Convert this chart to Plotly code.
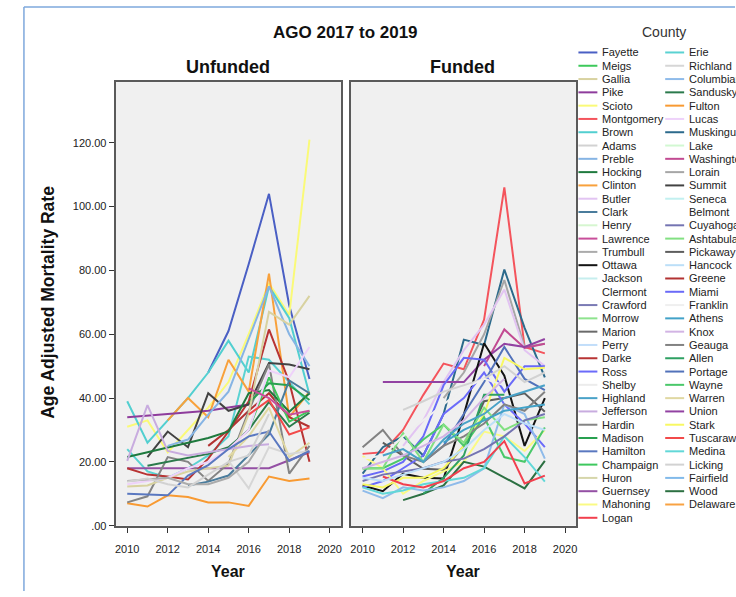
import plotly.graph_objects as go

YEARS = [2010, 2011, 2012, 2013, 2014, 2015, 2016, 2017, 2018, 2019]
N = None

# ---------- Unfunded panel series ----------
fayette = [N, N, N, N, 48, 61, 82, 104, 69, 46]
scioto = [31, 33, 23, 30, 37, 45, 60, 76, 66, 121]
brown = [39, 26, 33, 40, 48, 58, 48, 75, 65, 41]
erie = [24, 17, 15, 18, 22, 28, 53, 52, 45, 38]
clinton = [N, N, 33, 40, 34, 52, 42, 79, 34, 42]
fulton = [7, 6, 9.5, 9, 7.3, 7.3, 6.2, 15.4, 14, 14.8]
pike = [34, 34.5, 35, 35.5, 36, 37, 38, N, N, N]
guernsey = [18, 18, 18, 18, 18, 18, 18, 18, 20.5, 23]
darke = [18, 16, 15.4, 14.5, 21, 29.5, 39, 61.5, 45, 20]
greene = [N, N, N, N, 25, 30, 36, 41.5, 34, 31]
summit = [N, 21.5, 29.5, 24.6, 41.5, 36, 38, 51, 50.5, 49]
hardin = [7.3, 9.2, 21.5, 20, 14, 19.4, 36, 50.6, 16.3, 25]
hocking = [21.5, 23, 24.5, 26, 27.5, 29.5, 41.5, 42.5, 35.7, 41.5]
sandusky = [N, 18.8, 20, 21.2, 22.5, 24.6, 30, 38.8, 31, 35.4]
meigs = [N, N, N, N, N, N, 30, 46.5, 32.6, 36]
madison = [N, N, N, N, N, N, 38.5, 44.6, 44, 39.4]
clark = [N, N, N, 12.6, 13.8, 15.7, 22, 28.6, 45.5, 41.5]
preble = [N, N, 25, 27, 34.8, 42, 58.5, 75, 60, 50]
gallia = [12.3, 12.6, 15, 17, 18, 18.8, 35, 67, 63, 72]
warren = [N, N, N, N, N, 21.5, 28, 37, 21.5, 26]
richland = [N, N, N, N, N, 20.3, 11.7, 24.6, 22.5, 23.4]
lucas = [13, 14, 15, 18, 20, 24, 30, 48.6, 46.5, 56]
jefferson = [20.3, 37.8, 23.4, 22, 23, 24, 25, 25.5, N, N]
lawrence = [N, N, N, N, N, N, 43, 40, 34.8, 36]
tuscarawas = [N, N, N, N, N, N, 34.8, 39.4, 28.6, 30.8]
hamilton = [10, 9.8, 9.5, 15.7, 19, 24, 28, 29.5, 20.3, 23.4]
trumbull = [14, 14.5, 15, 13, 13, 15, 20, 30, N, N]
adams = [13.8, 14.8, 13, 12, 16, 20, 22, 35, N, N]

# ---------- Funded panel series ----------
montgomery = [22.5, 23, 30, 41, 50.8, 49, 64.6, 106, 56, 54]
muskingum = [16.3, 24.6, 28, 22, 35, 58.3, 56.6, 80.3, 62, 46.5]
lorain = [N, N, N, N, 40, 48, 60, 77, 56, 57]
butler = [N, N, 25, 33, 45, 55, 63, 74, 55, 50]
washington = [N, N, N, N, N, N, 50, 61.5, 55.7, 57]
union = [N, 45, 45, 45, 45, 45, 52, 57, 56, 58.5]
ottawa = [12.6, 10.8, 16.3, 15, 14.8, 34.8, 57.2, 47, 25, 40]
pickaway = [N, 26, 22, 17.8, 17.5, 25, 39, 40, 41.5, 35.7]
miami = [15.4, 17, 20, 28, 44, 52.6, 52, 42, 50, 50]
ross = [12, 14, 18, 22, 35, 40, 48, 38, 32, 24.6]
portage = [N, N, N, 20, 25, 35, 45, 56, 46, 42.5]
stark = [13, 12, 15, 15, 18, 25, 35, 52.6, 49, 49.5]
mahoning = [21.8, 18, 10, 14, 17, 20, 29.5, 28, 23.4, 30]
wayne = [18, 18, 21, 27, 31.7, 25, 34, 21.5, 20, 30.8]
wood = [N, N, 8, 10, 12.6, 20, 18.5, 15, 11.7, 20.3]
allen = [N, N, N, 10, 15, 22, 41, 41, N, N]
columbiana = [11, 8.6, 12, 11, 12, 14, 18, 38, 35, 21]
licking = [N, N, 36.3, 39, 42, 44, 46, 50, 45, 48]
geauga = [24.6, 30, 22, 20, 25, 28, 32, 38, 36, 42]
medina = [12, 10, 11, 13, 14, 15, 18, 28, 21.5, 13.8]
ashtabula = [17.8, 18, 29, 20, 31.7, 26, 37, 30, 33, 34]
logan = [N, 15.4, 13, 12, 14, 18, 20, 26.5, 13.2, 15.7]
franklin = [21, 22, 28, 33, 38, 43, 46, 44, N, N]
cuyahoga = [14, 16, 17, 18, 20, 21, 24, 28, 33, 35]
athens = [N, N, N, N, 26, 30, 33, 36, 37, 38]
knox = [18, 20, 22, 25, 28, 33, 40, 46, N, N]
hancock = [15, 14, 16, 18, 20, 24, 30, 35, 32, 30]
highland = [N, 22, 24, 20, 27, 32, 35, 40, 42, 44]

UNFUNDED = {
    "Fayette": fayette, "Scioto": scioto, "Brown": brown, "Erie": erie,
    "Clinton": clinton, "Fulton": fulton, "Pike": pike, "Guernsey": guernsey,
    "Darke": darke, "Greene": greene, "Summit": summit, "Hardin": hardin,
    "Hocking": hocking, "Sandusky": sandusky, "Meigs": meigs, "Madison": madison,
    "Clark": clark, "Preble": preble, "Gallia": gallia, "Warren": warren,
    "Richland": richland, "Lucas": lucas, "Jefferson": jefferson,
    "Lawrence": lawrence, "Tuscarawas": tuscarawas, "Hamilton": hamilton,
    "Trumbull": trumbull, "Adams": adams,
}
FUNDED = {
    "Montgomery": montgomery, "Muskingum": muskingum, "Lorain": lorain,
    "Butler": butler, "Washington": washington, "Union": union,
    "Ottawa": ottawa, "Pickaway": pickaway, "Miami": miami, "Ross": ross,
    "Portage": portage, "Stark": stark, "Mahoning": mahoning, "Wayne": wayne,
    "Wood": wood, "Allen": allen, "Columbiana": columbiana, "Licking": licking,
    "Geauga": geauga, "Medina": medina, "Ashtabula": ashtabula, "Logan": logan,
    "Franklin": franklin, "Cuyahoga": cuyahoga, "Athens": athens, "Knox": knox,
    "Hancock": hancock, "Highland": highland,
}

LEGEND_COL1 = ["Fayette", "Meigs", "Gallia", "Pike", "Scioto", "Montgomery", "Brown",
               "Adams", "Preble", "Hocking", "Clinton", "Butler", "Clark", "Henry",
               "Lawrence", "Trumbull", "Ottawa", "Jackson", "Clermont", "Crawford",
               "Morrow", "Marion", "Perry", "Darke", "Ross", "Shelby", "Highland",
               "Jefferson", "Hardin", "Madison", "Hamilton", "Champaign", "Huron",
               "Guernsey", "Mahoning", "Logan"]
LEGEND_COL2 = ["Erie", "Richland", "Columbiana", "Sandusky", "Fulton", "Lucas",
               "Muskingum", "Lake", "Washington", "Lorain", "Summit", "Seneca",
               "Belmont", "Cuyahoga", "Ashtabula", "Pickaway", "Hancock", "Greene",
               "Miami", "Franklin", "Athens", "Knox", "Geauga", "Allen", "Portage",
               "Wayne", "Warren", "Union", "Stark", "Tuscarawas", "Medina",
               "Licking", "Fairfield", "Wood", "Delaware"]

COLORS = {
    "Fayette": "#4a5fc4", "Meigs": "#3dc95b", "Gallia": "#d8d2a0", "Pike": "#8e3c9c",
    "Scioto": "#fafa78", "Montgomery": "#f4545c", "Brown": "#52cfd0", "Adams": "#d2d2d2",
    "Preble": "#86b4e4", "Hocking": "#1f7a3e", "Clinton": "#f8a13c", "Butler": "#e2c4f2",
    "Clark": "#4a7c9c", "Henry": "#d6f6d0", "Lawrence": "#c84e9a", "Trumbull": "#ababab",
    "Ottawa": "#141414", "Jackson": "#c6eeee", "Clermont": "#ffffff", "Crawford": "#7a7ab4",
    "Morrow": "#8ee38e", "Marion": "#6a6a6a", "Perry": "#c2defa", "Darke": "#b83434",
    "Ross": "#6b6bfa", "Shelby": "#ececec", "Highland": "#4aa2c8", "Jefferson": "#c8acdf",
    "Hardin": "#848484", "Madison": "#28a050", "Hamilton": "#5a78c0", "Champaign": "#3ec85e",
    "Huron": "#d6d6aa", "Guernsey": "#9450a4", "Mahoning": "#fafa84", "Logan": "#f2404e",
    "Erie": "#5ad2d2", "Richland": "#d6d6d6", "Columbiana": "#8fbbea", "Sandusky": "#2b7a4c",
    "Fulton": "#f89a32", "Lucas": "#eed2fa", "Muskingum": "#2c6a8c", "Lake": "#d2f8d2",
    "Washington": "#c24a92", "Lorain": "#a6a6a6", "Summit": "#424242", "Seneca": "#c2f0f0",
    "Belmont": "#ffffff", "Cuyahoga": "#7474b2", "Ashtabula": "#82e082", "Pickaway": "#5e5e5e",
    "Hancock": "#bcdff8", "Greene": "#b23232", "Miami": "#6a6af8", "Franklin": "#efefef",
    "Athens": "#42a2c8", "Knox": "#d2b4e4", "Geauga": "#828282", "Allen": "#2ea062",
    "Portage": "#5272ba", "Wayne": "#4ac86a", "Warren": "#e0d8a2", "Union": "#9242a2",
    "Stark": "#f8f862", "Tuscarawas": "#f24a4a", "Medina": "#62d8d8", "Licking": "#d2d2d2",
    "Fairfield": "#82baea", "Wood": "#2c7042", "Delaware": "#f8a242",
}

Y_TICKS = [0, 20, 40, 60, 80, 100, 120]
Y_TICKTEXT = [".00", "20.00", "40.00", "60.00", "80.00", "100.00", "120.00"]
X_TICKS = [2010, 2012, 2014, 2016, 2018, 2020]

W, H = 736, 597
FONT = "Liberation Sans"


def px(x):
    return x / W


def py(y):
    return 1 - y / H


fig = go.Figure()
for name, vals in UNFUNDED.items():
    fig.add_trace(go.Scatter(x=YEARS, y=vals, mode="lines", xaxis="x", yaxis="y",
                             line=dict(color=COLORS[name], width=2), name=name,
                             showlegend=False, connectgaps=False))
for name, vals in FUNDED.items():
    fig.add_trace(go.Scatter(x=YEARS, y=vals, mode="lines", xaxis="x2", yaxis="y2",
                             line=dict(color=COLORS[name], width=2), name=name,
                             showlegend=False, connectgaps=False))

axis_common = dict(showline=True, mirror=True, linecolor="#5a5a5a", linewidth=2,
                   showgrid=False, zeroline=False)
xr = [2009.43, 2020.56]
yr = [0, 139]
fig.update_layout(
    width=W, height=H, margin=dict(l=0, r=0, t=0, b=0),
    paper_bgcolor="white", plot_bgcolor="#f0f0f0",
    font=dict(family=FONT, size=11, color="#222"),
    xaxis=dict(domain=[px(115), px(341)], range=xr, anchor="y", tickvals=X_TICKS,
               ticks="outside", ticklen=5, tickcolor="#333", ticklabelstandoff=7,
               **axis_common),
    xaxis2=dict(domain=[px(351), px(577)], range=xr, anchor="y2", tickvals=X_TICKS,
                ticks="outside", ticklen=5, tickcolor="#333", ticklabelstandoff=7,
                **axis_common),
    yaxis=dict(domain=[py(531), py(83)], range=yr, anchor="x", tickvals=Y_TICKS,
               ticktext=Y_TICKTEXT, ticks="outside", ticklen=5, tickcolor="#333",
               **axis_common),
    yaxis2=dict(domain=[py(531), py(83)], range=yr, anchor="x2", showticklabels=False,
                ticks="", **axis_common),
)


def label(text, x, y, size, color="#111", angle=0, xanchor="center"):
    return dict(text=text, x=px(x), y=py(y), xref="paper", yref="paper",
                xanchor=xanchor, yanchor="middle", showarrow=False,
                textangle=angle, font=dict(size=size, color=color))


ann = [
    label("<b>AGO 2017 to 2019</b>", 345, 33, 17),
    label("<b>Unfunded</b>", 228, 68, 18),
    label("<b>Funded</b>", 463, 68, 18),
    label("<b>Year</b>", 228, 577, 16),
    label("<b>Year</b>", 463, 577, 16),
    label("<b>Age Adjusted Mortality Rate</b>", 47, 305, 17.5, angle=-90),
    label("County", 665, 32, 14, color="#333"),
]

shapes = []
# frame of the original screenshot
shapes.append(dict(type="line", xref="paper", yref="paper", x0=px(23), x1=px(23),
                   y0=py(7), y1=0, line=dict(color="#7ea8dc", width=1.5)))
shapes.append(dict(type="line", xref="paper", yref="paper", x0=px(23), x1=1,
                   y0=py(7), y1=py(7), line=dict(color="#7ea8dc", width=1.5)))

ROW0, ROWSTEP = 53, 13.43
for names, lx0 in [(LEGEND_COL1, 579), (LEGEND_COL2, 666)]:
    for i, name in enumerate(names):
        yy = ROW0 + i * ROWSTEP
        shapes.append(dict(type="line", xref="paper", yref="paper", x0=px(lx0),
                           x1=px(lx0 + 19), y0=py(yy), y1=py(yy),
                           line=dict(color=COLORS[name], width=2)))
        ann.append(label(name, lx0 + 22, yy, 11, color="#222", xanchor="left"))

fig.update_layout(annotations=ann, shapes=shapes)
fig.write_html("out.html")
